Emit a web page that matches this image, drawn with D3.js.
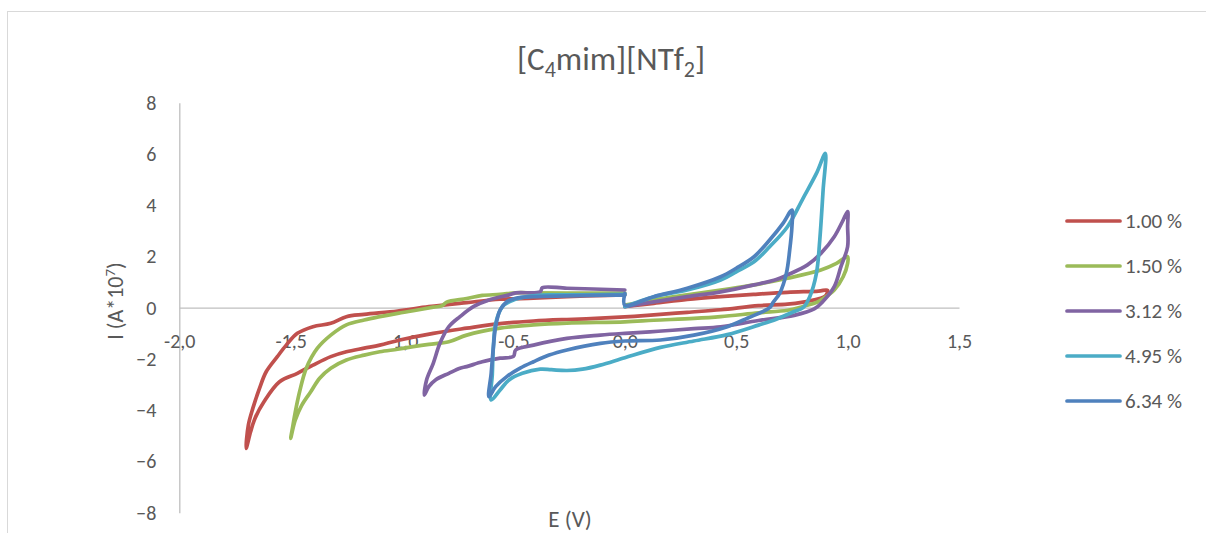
<!DOCTYPE html>
<html><head><meta charset="utf-8">
<script src="https://cdn.jsdelivr.net/npm/d3@7"></script>
<style>
html,body{margin:0;padding:0;background:#fff;}
svg{display:block;font-family:Carlito, Calibri, Lato, sans-serif;}
</style></head>
<body><svg id="chart" width="1206" height="533"></svg>
<script>
// ---- data (E in V, I in A*10^7) ----
const seriesNames = ["1.00 %", "1.50 %", "3.12 %", "4.95 %", "6.34 %"];
const seriesColors = ["#C0504D", "#9BBB59", "#8064A2", "#4BACC6", "#4F81BD"];
const xTicks = [-2.0, -1.5, -1.0, -0.5, 0.0, 0.5, 1.0, 1.5];
const yTicks = [-8, -6, -4, -2, 0, 2, 4, 6, 8];

const e100 = [0.00,0.13,0.28,0.43,0.58,0.73,0.87,0.91, 0.90,0.87,0.80,0.73,0.60,0.43,0.28,0.13,0.00,-0.13,-0.26,-0.41,-0.56,-0.71,-0.86,-1.01,-1.10,-1.17,-1.25,-1.32,-1.40,-1.47,-1.55,-1.62,-1.66,-1.68,-1.70, -1.69,-1.67,-1.64,-1.61,-1.56,-1.52,-1.47,-1.40,-1.32,-1.25,-1.17,-1.02,-0.88,-0.71,-0.56,-0.41,-0.26,-0.13,0.00];
const i100 = [0.05,0.17,0.32,0.43,0.52,0.60,0.65,0.68, 0.45,0.35,0.22,0.14,0.08,-0.08,-0.18,-0.28,-0.36,-0.42,-0.46,-0.52,-0.62,-0.80,-1.00,-1.26,-1.46,-1.58,-1.72,-1.91,-2.24,-2.56,-2.89,-3.67,-4.31,-4.84,-5.49, -4.58,-3.93,-3.15,-2.50,-1.91,-1.46,-1.00,-0.74,-0.61,-0.35,-0.26,-0.13,0.04,0.20,0.33,0.37,0.43,0.47,0.50];

const e150 = [0.00,0.13,0.28,0.43,0.58,0.73,0.88,0.95,1.00, 1.00,0.98,0.94,0.88,0.86,0.80,0.73,0.60,0.43,0.31,0.13,0.00,-0.26,-0.41,-0.56,-0.71,-0.79,-0.88,-0.95,-1.02,-1.10,-1.17,-1.25,-1.32,-1.37,-1.41,-1.45,-1.48,-1.50, -1.49,-1.48,-1.46,-1.43,-1.38,-1.32,-1.25,-1.17,-1.10,-1.02,-0.95,-0.86,-0.82,-0.80,-0.71,-0.64,-0.56,-0.49,-0.41,-0.26,0.00];
const i150 = [0.10,0.30,0.50,0.69,0.89,1.15,1.47,1.73,1.99, 1.73,1.21,0.69,0.30,0.20,0.05,-0.10,-0.20,-0.35,-0.42,-0.49,-0.55,-0.60,-0.67,-0.80,-1.07,-1.33,-1.43,-1.52,-1.62,-1.72,-1.85,-2.04,-2.36,-2.75,-3.28,-3.80,-4.40,-5.10, -4.60,-4.10,-3.28,-2.36,-1.58,-1.07,-0.67,-0.48,-0.35,-0.22,-0.12,0.02,0.08,0.22,0.36,0.48,0.52,0.58,0.58,0.57,0.57];

const e312 = [0.00,0.13,0.28,0.43,0.58,0.68,0.73,0.82,0.88,0.94,0.98,1.00, 1.00,1.00,0.97,0.94,0.89,0.85,0.76,0.60,0.43,0.31,0.15,0.00,-0.11,-0.26,-0.41,-0.49,-0.50,-0.56,-0.64,-0.71,-0.74,-0.79,-0.85,-0.88,-0.90, -0.89,-0.86,-0.83,-0.79,-0.74,-0.68,-0.61,-0.52,-0.49,-0.38,-0.37,-0.26,0.00];
const i312 = [0.04,0.23,0.43,0.62,0.89,1.10,1.28,1.67,2.12,2.77,3.42,3.75, 3.16,2.38,1.60,0.82,0.25,-0.05,-0.30,-0.50,-0.75,-0.82,-0.92,-1.00,-1.07,-1.20,-1.46,-1.65,-1.90,-1.97,-2.11,-2.30,-2.36,-2.56,-2.82,-3.08,-3.41, -2.82,-2.17,-1.39,-0.74,-0.35,0.04,0.30,0.50,0.58,0.62,0.78,0.76,0.69];

const e495 = [0.00,0.13,0.28,0.43,0.50,0.58,0.65,0.73,0.80,0.86,0.90, 0.89,0.875,0.86,0.83,0.80,0.76,0.68,0.60,0.46,0.31,0.16,0.00,-0.11,-0.19,-0.26,-0.33,-0.38,-0.46,-0.52,-0.56,-0.60, -0.595,-0.59,-0.58,-0.55,-0.50,-0.44,-0.34,-0.19,0.00];
const i495 = [0.04,0.43,0.69,1.08,1.40,1.79,2.38,3.16,4.27,5.24,6.02, 4.59,2.64,1.34,0.43,0.00,-0.15,-0.45,-0.68,-1.05,-1.30,-1.55,-1.95,-2.24,-2.40,-2.45,-2.42,-2.40,-2.56,-2.82,-3.21,-3.60, -2.60,-1.52,-0.61,0.04,0.30,0.43,0.50,0.50,0.52];

const e634 = [0.00,0.00,0.13,0.28,0.43,0.50,0.58,0.65,0.71,0.75, 0.75,0.74,0.725,0.695,0.665,0.65,0.55,0.46,0.31,0.16,0.00,-0.11,-0.26,-0.34,-0.41,-0.47,-0.53,-0.58,-0.61, -0.60,-0.59,-0.58,-0.56,-0.53,-0.49,-0.41,-0.26,0.00];
const i634 = [0.55,0.10,0.43,0.76,1.21,1.54,1.99,2.64,3.29,3.81, 3.16,2.25,1.34,0.56,0.20,0.00,-0.41,-0.74,-1.07,-1.26,-1.30,-1.39,-1.65,-1.85,-2.11,-2.36,-2.69,-3.08,-3.47, -2.56,-1.52,-0.74,-0.09,0.23,0.37,0.43,0.46,0.50];

const seriesE = [e100, e150, e312, e495, e634];
const seriesI = [i100, i150, i312, i495, i634];

// ---- drawing ----
const svg = d3.select("#chart");
const textColor = "#595959", axisColor = "#bfbfbf";
const fontFam = "Carlito, Calibri, Lato, sans-serif";

// outer frame
svg.append("rect").attr("x", 7.5).attr("y", 11.5).attr("width", 1400).attr("height", 700)
  .attr("fill", "#fff").attr("stroke", "#d9d9d9").attr("stroke-width", 1);

const x = d3.scaleLinear().domain([-2, 1.5]).range([179.3, 959]);
const y = d3.scaleLinear().domain([-8, 8]).range([512.7, 102.7]);

// y axis
const yAxis = svg.append("g").attr("transform", `translate(${x(-2)},0)`)
  .call(d3.axisLeft(y).tickValues(yTicks).tickSize(0).tickSizeOuter(0).tickFormat(d3.format("d")));
yAxis.select(".domain").attr("stroke", axisColor).attr("stroke-width", 1.3);
yAxis.selectAll("text").attr("x", -23).attr("fill", textColor).attr("font-size", 20)
  .attr("font-family", fontFam);

// x axis at I = 0
const fmtX = v => d3.format(".1f")(v).replace(".", ",").replace("−", "-");
const xAxis = svg.append("g").attr("transform", `translate(0,${y(0)})`)
  .call(d3.axisBottom(x).tickValues(xTicks).tickSize(0).tickSizeOuter(0).tickFormat(fmtX));
xAxis.select(".domain").attr("stroke", axisColor).attr("stroke-width", 1.3);
xAxis.selectAll("text").attr("y", 33).attr("dy", "0.35em").attr("fill", textColor).attr("font-size", 20)
  .attr("font-family", fontFam);

// series
const line = d3.line().x(d => x(d[0])).y(d => y(d[1])).curve(d3.curveCatmullRom.alpha(0.5));
seriesNames.forEach((name, k) => {
  const pts = seriesE[k].map((e, j) => [e, seriesI[k][j]]);
  svg.append("path").datum(pts).attr("d", line)
    .attr("fill", "none").attr("stroke", seriesColors[k]).attr("stroke-width", 3.7)
    .attr("stroke-linejoin", "round").attr("stroke-linecap", "round");
});

// title
const title = svg.append("text").attr("x", 611).attr("y", 70).attr("text-anchor", "middle")
  .attr("fill", textColor).attr("font-size", 33);
title.append("tspan").text("[C");
title.append("tspan").attr("dy", 7).attr("font-size", 22).text("4");
title.append("tspan").attr("dy", -7).text("mim][NTf");
title.append("tspan").attr("dy", 7).attr("font-size", 22).text("2");
title.append("tspan").attr("dy", -7).text("]");

// axis titles
const yt = svg.append("text").attr("transform", "translate(123,301) rotate(-90)")
  .attr("text-anchor", "middle").attr("fill", textColor).attr("font-size", 22);
yt.append("tspan").text("I (A*10");
yt.append("tspan").attr("dy", -8).attr("font-size", 15).text("7");
yt.append("tspan").attr("dy", 8).text(")");

svg.append("text").attr("x", 570).attr("y", 527).attr("text-anchor", "middle")
  .attr("fill", textColor).attr("font-size", 23).text("E (V)");

// legend
const legend = svg.append("g");
seriesNames.forEach((name, k) => {
  const ly = 221 + k * 45;
  legend.append("line").attr("x1", 1067).attr("x2", 1120).attr("y1", ly).attr("y2", ly)
    .attr("stroke", seriesColors[k]).attr("stroke-width", 3.7).attr("stroke-linecap", "round");
  legend.append("text").attr("x", 1125).attr("y", ly).attr("dy", "0.35em")
    .attr("fill", textColor).attr("font-size", 21).text(name);
});
</script></body></html>
